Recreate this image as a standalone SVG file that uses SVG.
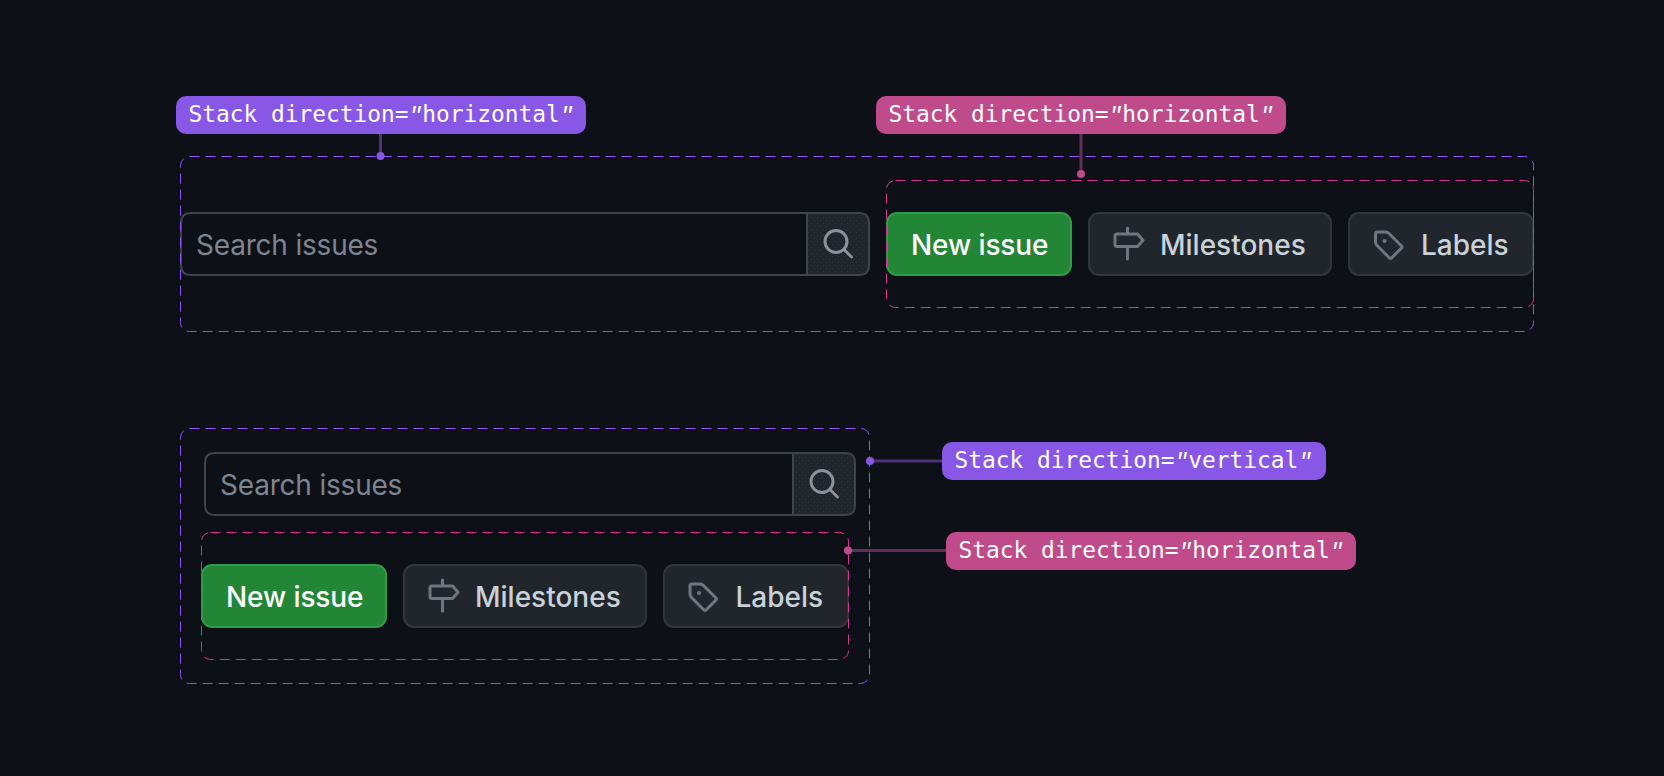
<svg xmlns="http://www.w3.org/2000/svg" width="1664" height="776" viewBox="0 0 1664 776">
<style>
.bg{fill:#0d1117}
.dash{fill:none;stroke-width:1;stroke-dasharray:10 6}
.p{stroke:#9050f5}.m{stroke:#d8308f}
.lab{font:400 22.850px "DejaVu Sans Mono",monospace;fill:#fff}
.q{font-family:"Liberation Mono",monospace;font-style:italic}
.lp{fill:#8957e5}.lm{fill:#bf4b8a}
.cp{stroke:#4e3476;stroke-width:3;fill:none}.cm{stroke:#60305a;stroke-width:3;fill:none}
.input{fill:#0d1117;stroke:#3d444d;stroke-width:2}
.sbtn{fill:url(#dots);stroke:#3d444d;stroke-width:2}
.t{font:400 28px Inter,"Noto Sans",sans-serif}
.ph{fill:#7d8590;letter-spacing:-.2px}
.btn{fill:#21262d;stroke:#30363d;stroke-width:2}
.go{fill:#238636;stroke:#2f9a48;stroke-width:2}
.w{font-weight:500;fill:#fff;letter-spacing:-.1px}
.d{font-weight:500;fill:#c9d1d9}
.ic{fill:none;stroke:#6e7681;stroke-width:3;stroke-linejoin:round;stroke-linecap:round}
.is{fill:none;stroke:#8b929b;stroke-width:3;stroke-linecap:round}
</style>
<defs>
<pattern id="dots" width="6" height="6" patternUnits="userSpaceOnUse"><rect width="6" height="6" fill="#21262d"/><rect x="1" y="1" width="1" height="1" fill="#30353d"/><rect x="4" y="4" width="1" height="1" fill="#30353d"/></pattern>
<g id="isearch"><circle cx="0" cy="0" r="11" class="is"/><path d="M8 8L15.500 15.500" class="is"/></g>
<g id="isign"><path d="M0 -14V-8M0 4.500V17M-10.500 -8H10L15.500 -1.750L10 4.500H-10.500Q-12.500 4.500 -12.500 2.500V-6Q-12.500 -8 -10.500 -8Z" class="ic"/></g>
<g id="itag"><path d="M2 0H10Q12 0 13.500 1.500L26 14Q27 15 26 16L16 26Q15 27 14 26L1.500 13.500Q0 12 0 10V2Q0 0 2 0Z" class="ic"/><circle cx="9" cy="9" r="2" fill="#6e7681"/></g>
</defs>
<rect class="bg" width="1664" height="776"/>

<g id="connectors">
<path class="cp" d="M380.500 134V156"/><circle cx="380.500" cy="156" r="4" class="lp"/>
<path class="cm" d="M1081 134V174"/><circle cx="1081" cy="174" r="4" class="lm"/>
<path class="cp" d="M870 461H942"/><circle cx="870" cy="461" r="4" class="lp"/>
<path class="cm" d="M848 550.500H946"/><circle cx="848" cy="550.500" r="4" class="lm"/>
</g>

<g id="top-search">
<path class="input" d="M191 213H807V275H191Q181 275 181 265V223Q181 213 191 213Z"/>
<path class="sbtn" d="M807 213H859Q869 213 869 223V265Q869 275 859 275H807Z"/>
<text class="t ph" x="196" y="254.500">Search issues</text>
<use href="#isearch" x="836" y="241.500"/>
</g>
<g id="top-new-issue"><rect class="go" x="887" y="213" width="184" height="62" rx="10"/><text class="t w" x="911" y="254.500">New issue</text></g>
<g id="top-milestones"><rect class="btn" x="1089" y="213" width="242" height="62" rx="10"/><use href="#isign" x="1127.500" y="242"/><text class="t d" x="1160" y="254.500">Milestones</text></g>
<g id="top-labels"><rect class="btn" x="1349" y="213" width="184" height="62" rx="10"/><use href="#itag" x="1375.500" y="232"/><text class="t d" x="1421" y="254.500">Labels</text></g>

<g id="top-outer-stack"><rect class="dash p" x="180.500" y="156.500" width="1353" height="175" rx="9"/></g>
<g id="top-inner-stack"><rect class="dash m" x="886.500" y="180.500" width="647" height="127" rx="9"/></g>
<g id="label-top-purple"><rect class="lp" x="176" y="96" width="410" height="38" rx="10"/><text class="lab" x="188.500" y="122">Stack direction=<tspan class="q">"</tspan>horizontal<tspan class="q">"</tspan></text></g>
<g id="label-top-pink"><rect class="lm" x="876" y="96" width="410" height="38" rx="10"/><text class="lab" x="888.500" y="122">Stack direction=<tspan class="q">"</tspan>horizontal<tspan class="q">"</tspan></text></g>

<g id="bottom-search">
<path class="input" d="M215 453H793V515H215Q205 515 205 505V463Q205 453 215 453Z"/>
<path class="sbtn" d="M793 453H845Q855 453 855 463V505Q855 515 845 515H793Z"/>
<text class="t ph" x="220" y="494.500">Search issues</text>
<use href="#isearch" x="822" y="481.500"/>
</g>
<g id="bottom-new-issue"><rect class="go" x="202" y="565" width="184" height="62" rx="10"/><text class="t w" x="226" y="606.500">New issue</text></g>
<g id="bottom-milestones"><rect class="btn" x="404" y="565" width="242" height="62" rx="10"/><use href="#isign" x="442.500" y="594"/><text class="t d" x="475" y="606.500">Milestones</text></g>
<g id="bottom-labels"><rect class="btn" x="664" y="565" width="184" height="62" rx="10"/><use href="#itag" x="690" y="584"/><text class="t d" x="735.500" y="606.500">Labels</text></g>

<g id="bottom-outer-stack"><rect class="dash p" x="180.500" y="428.500" width="689" height="255" rx="9"/></g>
<g id="bottom-inner-stack"><rect class="dash m" x="201.500" y="532.500" width="647" height="127" rx="9"/></g>
<g id="label-bottom-purple"><rect class="lp" x="942" y="442" width="384" height="38" rx="10"/><text class="lab" x="954.500" y="468">Stack direction=<tspan class="q">"</tspan>vertical<tspan class="q">"</tspan></text></g>
<g id="label-bottom-pink"><rect class="lm" x="946" y="532" width="410" height="38" rx="10"/><text class="lab" x="958.500" y="558">Stack direction=<tspan class="q">"</tspan>horizontal<tspan class="q">"</tspan></text></g>
</svg>
